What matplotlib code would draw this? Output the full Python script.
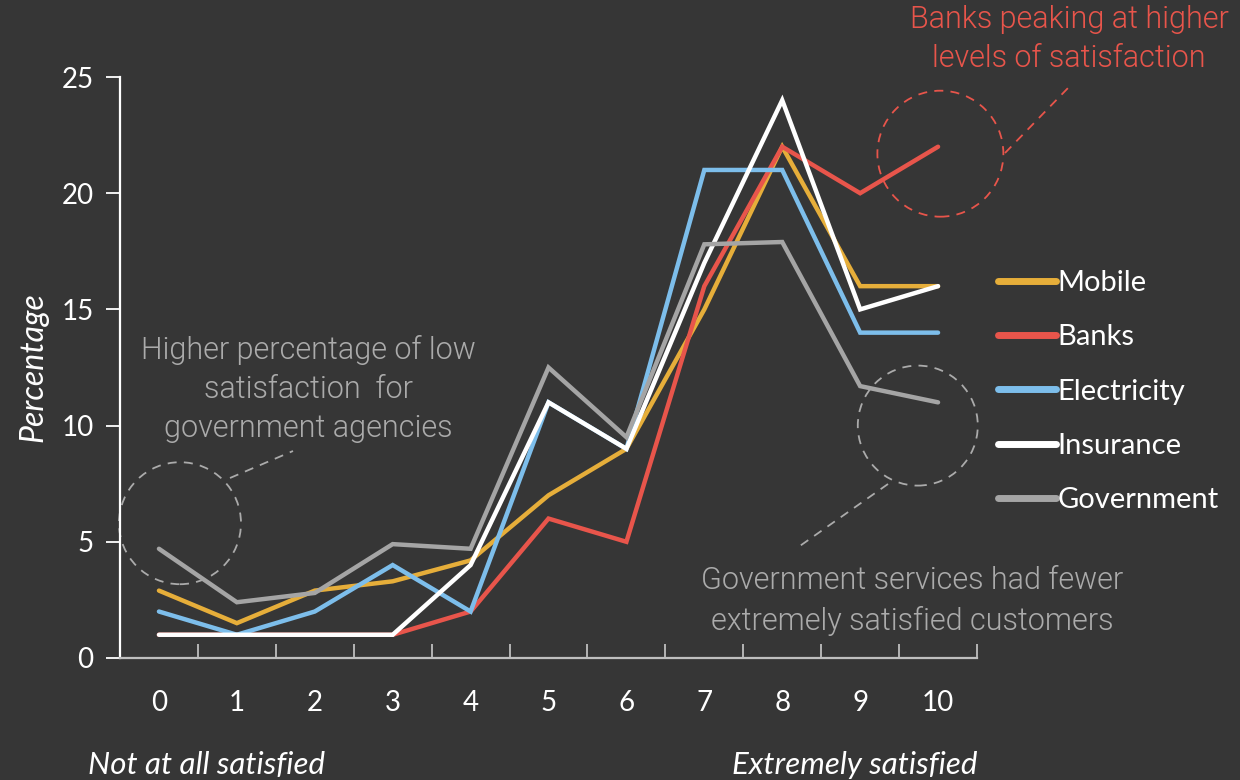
import numpy as np
import matplotlib
matplotlib.use("Agg")
from matplotlib import pyplot as plt
from matplotlib.patches import Ellipse

# satisfaction score 0..10 and share of respondents (%) per sector
scores = list(range(11))
mobile = [2.9, 1.5, 2.9, 3.3, 4.2, 7, 9, 15, 22, 16, 16]
banks = [1, 1, 1, 1, 2, 6, 5, 16, 22, 20, 22]
electricity = [2, 1, 2, 4, 2, 11, 9, 21, 21, 14, 14]
insurance = [1, 1, 1, 1, 4, 11, 9, 17, 24, 15, 16]
government = [4.7, 2.4, 2.8, 4.9, 4.7, 12.5, 9.5, 17.8, 17.9, 11.7, 11.0]

series_names = ["Mobile", "Banks", "Electricity", "Insurance", "Government"]
series_colors = ["#E6AE3A", "#E8554B", "#7DBEEB", "#FFFFFF", "#A5A5A5"]

BG = "#363636"
RED = "#E8554B"
GREY_TXT = "#ABABAB"
NOTE_FONT = ['Roboto', 'DejaVu Sans']

plt.rcParams['font.family'] = ['Lato', 'DejaVu Sans']


def main():
    fig = plt.figure(figsize=(12.4, 7.8), dpi=100, facecolor=BG)
    ax = fig.add_axes([120 / 1240, 1 - 658 / 780, 857 / 1240, 581 / 780])
    ax.set_facecolor(BG)

    all_series = [mobile, banks, electricity, insurance, government]
    for name, vals, col in zip(series_names, all_series, series_colors):
        ax.plot(scores, vals, color=col, lw=3.2, label=name,
                solid_capstyle='round', solid_joinstyle='miter')

    ax.set_xlim(-0.5, 10.5)
    ax.set_ylim(0, 25)

    # category axis: ticks sit between the categories, pointing up
    ax.set_xticks(np.arange(-0.5, 11, 1))
    ax.set_xticklabels([])
    ax.set_xticks(scores, minor=True)
    ax.set_xticklabels([str(s) for s in scores], minor=True)
    ax.tick_params(axis='x', which='major', direction='in', length=10,
                   width=1.3, color='#BFBFBF')
    ax.tick_params(axis='x', which='minor', length=0, pad=23,
                   labelsize=20, labelcolor='white')

    ax.set_yticks([0, 5, 10, 15, 20, 25])
    ax.tick_params(axis='y', direction='out', length=10, width=1.3,
                   color='white', labelsize=20, labelcolor='white', pad=9)

    for side in ['top', 'right']:
        ax.spines[side].set_visible(False)
    ax.spines['left'].set_color('white')
    ax.spines['left'].set_linewidth(1.6)
    ax.spines['bottom'].set_color('#BFBFBF')
    ax.spines['bottom'].set_linewidth(1.6)

    ax.set_ylabel("Percentage", fontsize=23, color='white', style='italic',
                  labelpad=9)

    fig.text(207 / 1240, 1 - 765 / 780, "Not at all satisfied", fontsize=22.5,
             color='white', style='italic', ha='center', va='center')
    fig.text(855 / 1240, 1 - 765 / 780, "Extremely satisfied", fontsize=22.5,
             color='white', style='italic', ha='center', va='center')

    # dashed call-out circles, sized in pixels and converted to data units
    px_x = 857 / 11.0
    px_y = 581 / 25.0

    def callout(cx, cy, r_px, col):
        ax.add_patch(Ellipse((cx, cy), 2 * r_px / px_x, 2 * r_px / px_y,
                             fill=False, ec=col, lw=1.3, ls=(0, (5, 4)),
                             clip_on=False))

    callout(10.03, 21.7, 63, RED)
    callout(9.74, 10.0, 60, GREY_TXT)
    callout(0.27, 5.8, 61, GREY_TXT)

    fig.add_artist(plt.Line2D([1005 / 1240, 1068 / 1240],
                              [1 - 153 / 780, 1 - 88 / 780],
                              color=RED, lw=1.3, ls=(0, (5, 4))))
    fig.add_artist(plt.Line2D([230 / 1240, 293 / 1240],
                              [1 - 478 / 780, 1 - 451 / 780],
                              color=GREY_TXT, lw=1.3, ls=(0, (5, 4))))
    fig.add_artist(plt.Line2D([888 / 1240, 797 / 1240],
                              [1 - 484 / 780, 1 - 548 / 780],
                              color=GREY_TXT, lw=1.3, ls=(0, (5, 4))))

    fig.text(1069 / 1240, 1 - 39 / 780,
             "Banks peaking at higher\nlevels of satisfaction",
             fontsize=22, color=RED, ha='center', va='center',
             family=NOTE_FONT, fontweight=300, linespacing=1.42)
    fig.text(308 / 1240, 1 - 389 / 780,
             "Higher percentage of low\nsatisfaction  for\ngovernment agencies",
             fontsize=22, color=GREY_TXT, ha='center', va='center',
             family=NOTE_FONT, fontweight=300, linespacing=1.42)
    fig.text(912 / 1240, 1 - 601 / 780,
             "Government services had fewer\nextremely satisfied customers",
             fontsize=22, color=GREY_TXT, ha='center', va='center',
             family=NOTE_FONT, fontweight=300, linespacing=1.42)

    leg = ax.legend(loc='upper left', bbox_to_anchor=(998 / 1240, 1 - 270 / 780),
                    bbox_transform=fig.transFigure, frameon=False,
                    fontsize=21, handlelength=2.0, handletextpad=0.05,
                    labelspacing=0.97, borderpad=0, borderaxespad=0)
    for txt in leg.get_texts():
        txt.set_color('white')
    for line in leg.get_lines():
        line.set_linewidth(5)
        line.set_solid_capstyle('round')

    fig.savefig("out.png", dpi=100, facecolor=BG)


if __name__ == "__main__":
    main()
